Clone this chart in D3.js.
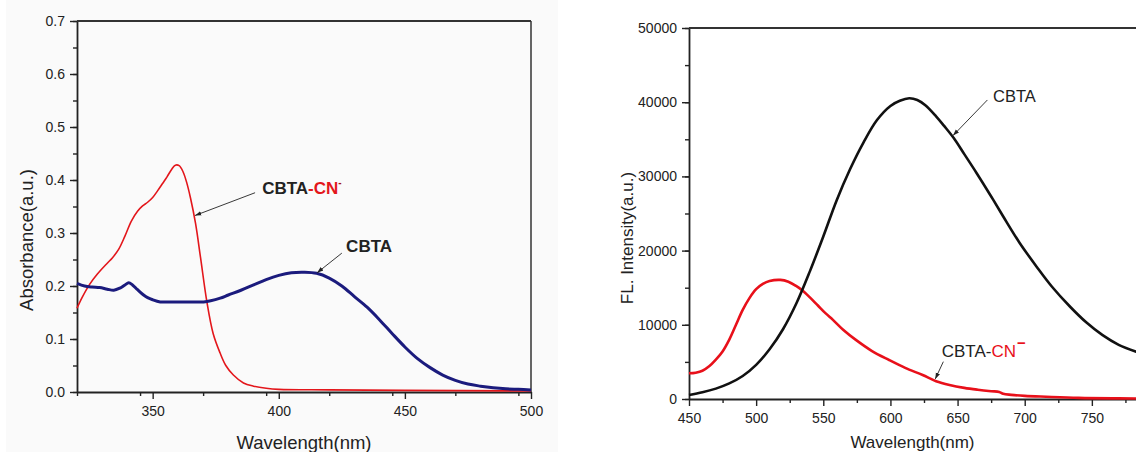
<!DOCTYPE html>
<html>
<head>
<meta charset="UTF-8">
<title>CBTA spectra</title>
<script src="https://cdn.jsdelivr.net/npm/d3@7"></script>
<style>
body { margin: 0; background: #fff; }
svg text { font-family: "Liberation Sans", Arial, sans-serif; fill: #222; }
.axis path, .axis line { stroke: #222; }
</style>
</head>
<body>
<div id="chart"></div>
<script>
// absorption spectra (left panel)
var absWave   = [320, 323, 326, 329, 332, 334.6, 337, 339, 340.5, 342, 344, 346.4, 348, 350, 353, 356, 360, 365, 370.2, 373, 376.8, 380, 385, 390, 395, 400, 405, 410, 415, 420, 425, 430, 435, 440, 445, 450, 455, 460, 465, 470, 475, 480, 485, 490, 495, 500];
var absCBTA   = [0.205, 0.200, 0.198, 0.197, 0.194, 0.192, 0.196, 0.202, 0.206, 0.202, 0.193, 0.183, 0.178, 0.174, 0.170, 0.170, 0.170, 0.170, 0.170, 0.172, 0.177, 0.183, 0.192, 0.202, 0.212, 0.220, 0.225, 0.226, 0.224, 0.215, 0.200, 0.180, 0.160, 0.136, 0.110, 0.085, 0.063, 0.046, 0.032, 0.022, 0.015, 0.011, 0.008, 0.006, 0.005, 0.004];
var absWaveCN = [320, 322, 325, 328, 332, 334, 336.5, 339, 341.5, 344, 346, 348, 350, 352, 354, 355.7, 357.5, 359, 360.5, 362, 363.5, 365, 367, 369, 371.5, 374, 376.7, 379, 382, 386, 390, 395, 400, 420, 450, 500];
var absCN     = [0.158, 0.178, 0.203, 0.222, 0.243, 0.253, 0.269, 0.294, 0.322, 0.341, 0.351, 0.358, 0.367, 0.380, 0.394, 0.406, 0.420, 0.428, 0.427, 0.416, 0.395, 0.366, 0.318, 0.253, 0.170, 0.110, 0.074, 0.050, 0.032, 0.017, 0.011, 0.007, 0.005, 0.004, 0.003, 0.002];

// fluorescence spectra (right panel)
var flWave    = [450, 460, 470, 480, 490, 500, 510, 520, 530, 540, 550, 560, 570, 580, 590, 600, 607, 614, 620, 626, 634, 640, 647, 655, 664, 674, 684, 696, 709, 720, 734, 746, 758, 770, 783, 800];
var flCBTA    = [540, 900, 1400, 2100, 3100, 4600, 6700, 9400, 12900, 17200, 21900, 26800, 31000, 34600, 37600, 39500, 40200, 40530, 40300, 39600, 38100, 36800, 35200, 33000, 30500, 27600, 24600, 21100, 17800, 15200, 12400, 10300, 8600, 7300, 6380, 5500];
var flWaveCN  = [450, 455, 460, 465, 470, 475, 480, 485, 490, 495, 500, 505, 510, 518, 524, 530, 534, 540, 546, 552, 557, 565, 574, 586, 599, 611, 624, 634, 644, 655, 665, 675, 681, 684, 690, 700, 716, 740, 770, 800];
var flCN      = [3460, 3550, 3800, 4400, 5300, 6400, 8000, 10000, 12000, 13600, 14800, 15500, 15900, 16050, 15800, 15200, 14700, 13700, 12600, 11500, 10700, 9300, 8000, 6500, 5260, 4200, 3230, 2400, 1890, 1500, 1250, 1050, 950, 700, 560, 420, 300, 150, 80, 50];

var absXTicks = [350, 400, 450, 500];
var absYTicks = [0, 0.1, 0.2, 0.3, 0.4, 0.5, 0.6, 0.7];
var flXTicks  = [450, 500, 550, 600, 650, 700, 750];
var flYTicks  = [0, 10000, 20000, 30000, 40000, 50000];

var W = 1136, H = 452;
var svg = d3.select("#chart").append("svg")
    .attr("width", W)
    .attr("height", H);

svg.append("rect").attr("x", 6).attr("y", 0).attr("width", 552).attr("height", H).attr("fill", "#fafafa");

svg.append("defs").append("marker")
    .attr("id", "arrow")
    .attr("viewBox", "0 0 10 10")
    .attr("refX", 10).attr("refY", 5)
    .attr("markerWidth", 7).attr("markerHeight", 7)
    .attr("orient", "auto")
  .append("path")
    .attr("d", "M0,1.5 L10,5 L0,8.5 Z")
    .attr("fill", "#222");

function panel(opt) {
    var x = d3.scaleLinear().domain(opt.xDomain).range(opt.xRange);
    var y = d3.scaleLinear().domain(opt.yDomain).range(opt.yRange);
    var g = svg.append("g");

    // minor ticks
    var xMinor = d3.range(opt.xDomain[0], opt.xDomain[1] + 0.001, opt.xMinor)
        .filter(function (d) { return d % opt.xMajor !== 0; });
    var yMinor = d3.range(opt.yDomain[0], opt.yDomain[1] + 1e-9, opt.yMinor);

    g.append("g").attr("class", "axis")
        .attr("transform", "translate(0," + opt.yRange[0] + ")")
        .call(d3.axisBottom(x).tickValues(xMinor).tickSize(4).tickFormat(""))
        .call(function (s) { s.select(".domain").remove(); });
    g.append("g").attr("class", "axis")
        .attr("transform", "translate(" + opt.xRange[0] + ",0)")
        .call(d3.axisLeft(y).tickValues(yMinor).tickSize(4).tickFormat(""))
        .call(function (s) { s.select(".domain").remove(); });

    var xa = g.append("g").attr("class", "axis")
        .attr("transform", "translate(0," + opt.yRange[0] + ")")
        .call(d3.axisBottom(x).tickValues(opt.xTicks).tickSize(7).tickSizeOuter(0).tickPadding(7));
    var ya = g.append("g").attr("class", "axis")
        .attr("transform", "translate(" + opt.xRange[0] + ",0)")
        .call(d3.axisLeft(y).tickValues(opt.yTicks).tickSize(7).tickSizeOuter(0).tickPadding(5).tickFormat(opt.yFormat));
    [xa, ya].forEach(function (a) {
        a.selectAll("text").style("font-size", "14px").attr("fill", "#222");
        a.select(".domain").attr("stroke-width", 1.8);
    });
    g.selectAll(".axis line").attr("stroke-width", 1.4);

    // frame
    g.append("line")
        .attr("x1", opt.xRange[0]).attr("x2", opt.xRange[1])
        .attr("y1", opt.yRange[1]).attr("y2", opt.yRange[1])
        .attr("stroke", "#333").attr("stroke-width", 1.8);
    if (opt.rightFrame) {
        g.append("line")
            .attr("x1", opt.xRange[1]).attr("x2", opt.xRange[1])
            .attr("y1", opt.yRange[1]).attr("y2", opt.yRange[0])
            .attr("stroke", "#333").attr("stroke-width", 1.5);
    }

    // titles
    g.append("text")
        .attr("x", (opt.xRange[0] + Math.min(opt.xRange[1], W)) / 2)
        .attr("y", opt.xTitleY)
        .attr("text-anchor", "middle")
        .style("font-size", opt.titleSize + "px")
        .text("Wavelength(nm)");
    g.append("text")
        .attr("transform", "translate(" + opt.yTitleX + "," + opt.yTitleY + ") rotate(-90)")
        .attr("text-anchor", "middle")
        .style("font-size", opt.titleSize + "px")
        .text(opt.yTitle);

    return { x: x, y: y, g: g };
}

function drawLine(p, xs, ys, color, width) {
    var pts = xs.map(function (d, i) { return [d, ys[i]]; });
    var line = d3.line()
        .x(function (d) { return p.x(d[0]); })
        .y(function (d) { return p.y(d[1]); })
        .curve(d3.curveCatmullRom.alpha(0.5));
    p.g.append("path")
        .datum(pts)
        .attr("d", line)
        .attr("fill", "none")
        .attr("stroke", color)
        .attr("stroke-width", width)
        .attr("stroke-linejoin", "round");
}

function arrow(p, from, to) {
    p.g.append("line")
        .attr("x1", p.x(from[0])).attr("y1", p.y(from[1]))
        .attr("x2", p.x(to[0])).attr("y2", p.y(to[1]))
        .attr("stroke", "#222").attr("stroke-width", 0.9)
        .attr("marker-end", "url(#arrow)");
}

// ---- left: absorbance ----
var left = panel({
    xDomain: [320, 500], xRange: [77, 531],
    yDomain: [0, 0.7], yRange: [392, 21],
    xTicks: absXTicks, yTicks: absYTicks,
    xMinor: 25, xMajor: 50, yMinor: 0.05,
    yFormat: d3.format(".1f"),
    rightFrame: true,
    titleSize: 18.5, xTitleY: 449,
    yTitle: "Absorbance(a.u.)", yTitleX: 33, yTitleY: 240
});
drawLine(left, absWaveCN, absCN, "#e3161b", 1.6);
drawLine(left, absWave, absCBTA, "#1b1b7d", 3);

var t1 = left.g.append("text")
    .attr("x", left.x(393.4)).attr("y", left.y(0.374))
    .style("font-size", "17px").style("font-weight", "bold");
t1.append("tspan").text("CBTA");
t1.append("tspan").attr("fill", "#e3161b").text("-CN");
t1.append("tspan").attr("fill", "#a0141a").attr("dy", -8).style("font-size", "10px").text("-");
arrow(left, [390.6, 0.376], [366.8, 0.333]);

left.g.append("text")
    .attr("x", left.x(426.7)).attr("y", left.y(0.264))
    .style("font-size", "17px").style("font-weight", "bold")
    .text("CBTA");
arrow(left, [425, 0.262], [415.2, 0.225]);

// ---- right: fluorescence ----
var right = panel({
    xDomain: [450, 800], xRange: [689, 1159],
    yDomain: [0, 50000], yRange: [399, 28],
    xTicks: flXTicks, yTicks: flYTicks,
    xMinor: 25, xMajor: 50, yMinor: 5000,
    yFormat: d3.format("d"),
    rightFrame: false,
    titleSize: 17, xTitleY: 448,
    yTitle: "FL. Intensity(a.u.)", yTitleX: 633, yTitleY: 238
});
drawLine(right, flWaveCN, flCN, "#e8101a", 2.6);
drawLine(right, flWave, flCBTA, "#111", 2.6);

right.g.append("text")
    .attr("x", right.x(676.4)).attr("y", right.y(40030))
    .style("font-size", "16.5px")
    .text("CBTA");
arrow(right, [672.2, 40300], [646.6, 35500]);

var t2 = right.g.append("text")
    .attr("x", right.x(638.2)).attr("y", right.y(5700))
    .style("font-size", "17px");
t2.append("tspan").text("CBTA-");
t2.append("tspan").attr("fill", "#e8101a").text("CN");
t2.append("tspan").attr("fill", "#e8101a").attr("dy", -9).attr("dx", 1).style("font-size", "15px").style("font-weight", "bold").text("\u2212");
arrow(right, [639.4, 5030], [633.4, 2700]);
</script>
</body>
</html>
